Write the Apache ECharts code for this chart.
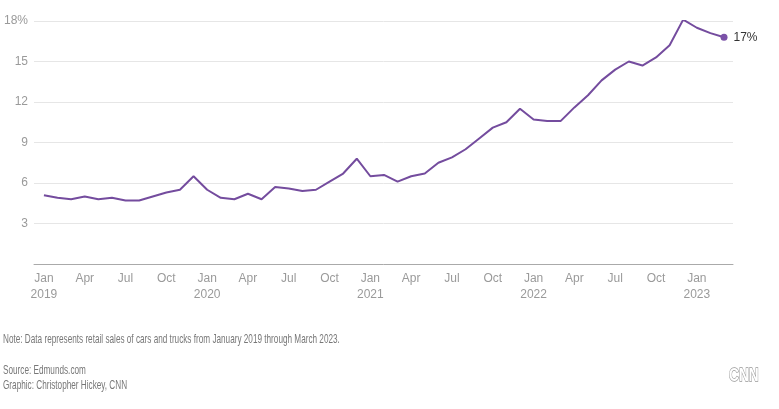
<!DOCTYPE html>
<html><head><meta charset="utf-8">
<script src="https://cdn.jsdelivr.net/npm/echarts@6/dist/echarts.min.js"></script>
<style>html,body{margin:0;padding:0;background:#fff}#c{width:779px;height:409px}</style>
</head><body><div id="c"></div>
<script>
var months = ['Jan','Feb','Mar','Apr','May','Jun','Jul','Aug','Sep','Oct','Nov','Dec'];
var startYear = 2019;
var values = [
  5.1,4.9,4.8,5.0,4.8,4.9,4.7,4.7,5.0,5.3,5.5,6.5,
  5.5,4.9,4.8,5.2,4.8,5.7,5.6,5.4,5.5,6.1,6.7,7.8,
  6.5,6.6,6.1,6.5,6.7,7.5,7.9,8.5,9.3,10.1,10.5,11.5,
  10.7,10.6,10.6,11.6,12.5,13.6,14.4,15.0,14.7,15.3,16.2,18.1,
  17.5,17.1,16.8
];
var yTicks = [0,3,6,9,12,15,18];
var xTickIdx = [];
for (var i = 0; i < values.length; i += 3) xTickIdx.push(i);
var endLabel = '17%';
var noteText = 'Note: Data represents retail sales of cars and trucks from January 2019 through March 2023.';
var sourceText = 'Source: Edmunds.com';
var graphicText = 'Graphic: Christopher Hickey, CNN';
var logoText = 'CNN';

var data = values.map(function(v, i){ return [i, v]; });
var FONT = '"Liberation Sans", Arial, sans-serif';
var LINE = '#744c9e';
var chart = echarts.init(document.getElementById('c'), null, {renderer:'canvas'});
chart.setOption({
  animation:false,
  grid:{left:34, right:46, top:21, bottom:145, containLabel:false},
  xAxis:{
    type:'value', min:-0.73, max:50.66,
    axisLine:{show:true, lineStyle:{color:'#aaa', width:1}},
    axisTick:{show:false},
    splitLine:{show:false},
    axisLabel:{
      customValues: xTickIdx,
      color:'#9a9a9a', fontFamily:FONT, fontSize:12, lineHeight:16, margin:7,
      formatter:function(v){
        var i = Math.round(v);
        var m = months[i % 12];
        if (i % 12 === 0) return m + '\n' + (startYear + i/12);
        return m;
      }
    }
  },
  yAxis:{
    type:'value', min:yTicks[0], max:yTicks[yTicks.length-1], interval:3,
    axisLine:{show:false}, axisTick:{show:false},
    splitLine:{lineStyle:{color:'#e6e6e6', width:1}},
    axisLabel:{
      color:'#9a9a9a', fontFamily:FONT, fontSize:12, margin:6,
      formatter:function(v){ if (v===0) return ''; return v===18 ? v+'%' : ''+v; }
    }
  },
  series:[{
    type:'line', data:data, symbol:'none',
    lineStyle:{color:LINE, width:2},
    markPoint:{
      symbol:'circle', symbolSize:7,
      itemStyle:{color:'#7b52a8'},
      label:{show:true, position:'right', distance:6, formatter:endLabel, color:'#333', fontFamily:FONT, fontSize:12},
      data:[{coord:data[data.length-1]}]
    }
  }],
  graphic:[
    {type:'text', x:3, y:333, scaleX:0.63, style:{text:noteText, fill:'#777', font:'13px '+FONT}},
    {type:'text', x:3, y:364, scaleX:0.63, style:{text:sourceText, fill:'#777', font:'13px '+FONT}},
    {type:'text', x:3, y:379, scaleX:0.63, style:{text:graphicText, fill:'#777', font:'13px '+FONT}},
    {type:'text', x:729, y:366, scaleX:0.72, style:{text:logoText, fill:'#fff', stroke:'#999', lineWidth:1.3, font:'bold 19px '+FONT}}
  ]
});
</script></body></html>
